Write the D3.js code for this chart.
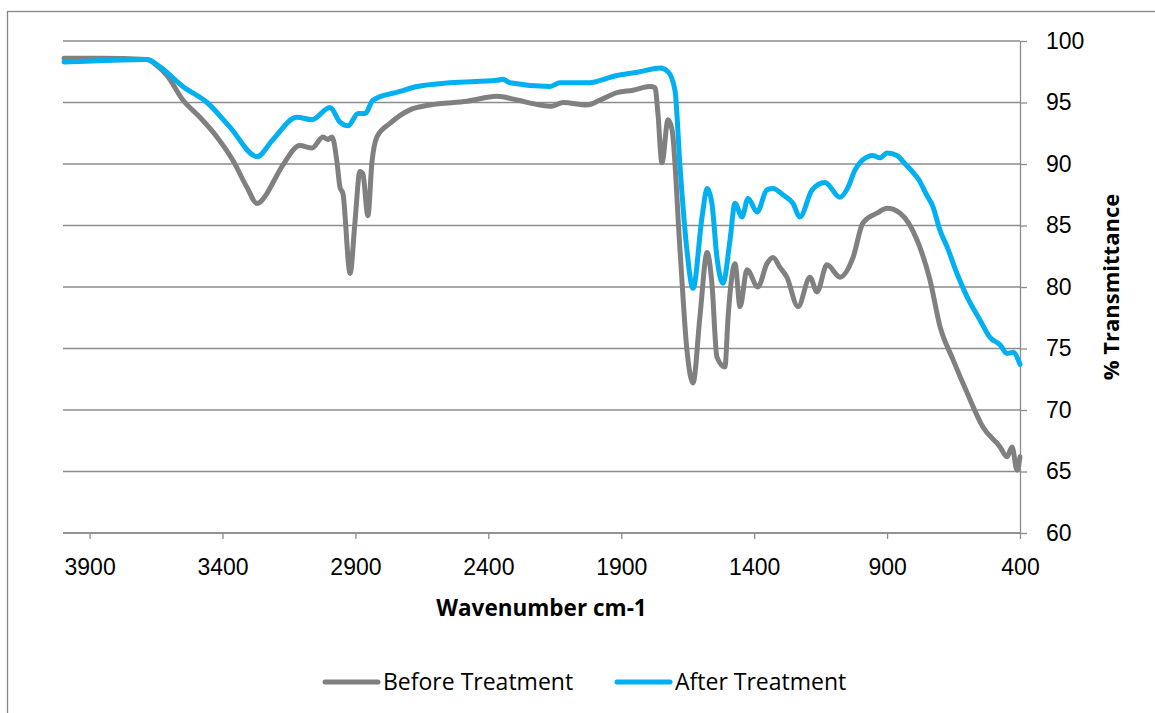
<!DOCTYPE html>
<html>
<head>
<meta charset="utf-8">
<script src="https://cdn.jsdelivr.net/npm/d3@7"></script>
<style>
  body { margin: 0; background: #fff; }
  svg { display: block; font-family: "Open Sans", sans-serif; }
  .grid line { stroke: #8c8c8c; stroke-width: 1.3; }
  .axis path, .axis line { stroke: #8c8c8c; stroke-width: 1.3; }
  .axis text { fill: #000; font-size: 23px; }
</style>
</head>
<body>
<svg width="1155" height="713"></svg>
<script>
// FTIR spectra
var seriesNames = ["Before Treatment", "After Treatment"];

var beforeWn = [3996, 3861, 3684, 3647, 3609, 3549, 3485, 3421, 3361, 3308, 3270, 3233, 3210, 3173, 3109,
  3063, 3022, 3003, 2988, 2969, 2958, 2947, 2920, 2902, 2883, 2872, 2853, 2838, 2819, 2770, 2695, 2620,
  2480, 2367, 2292, 2206, 2161, 2119, 2029, 1980, 1916, 1856, 1792, 1773, 1762, 1747, 1724, 1709, 1679,
  1653, 1630, 1604, 1577, 1559, 1540, 1510, 1498, 1472, 1453, 1427, 1386, 1352, 1329, 1303, 1277, 1235,
  1190, 1164, 1126, 1077, 1028, 991, 938, 900, 851, 787, 739, 701, 652, 599, 539, 475, 449, 430, 411, 400];
var beforeT = [98.6, 98.6, 98.5, 98.0, 97.2, 95.2, 93.8, 92.2, 90.3, 88.1, 86.8, 87.6, 88.5, 89.9, 91.5,
  91.3, 92.2, 92.0, 92.2, 90.1, 88.1, 87.6, 81.1, 85.2, 89.4, 89.2, 85.8, 90.1, 92.2, 93.3, 94.4, 94.8,
  95.1, 95.5, 95.2, 94.8, 94.7, 95.0, 94.8, 95.2, 95.8, 96.0, 96.3, 96.2, 94.1, 90.1, 93.6, 92.8, 83.0,
  74.9, 72.2, 77.6, 82.8, 80.3, 74.3, 73.5, 77.6, 81.9, 78.4, 81.4, 80.0, 81.9, 82.4, 81.6, 80.8, 78.4,
  80.8, 79.6, 81.8, 80.8, 82.4, 85.2, 86.0, 86.4, 86.0, 83.8, 80.6, 76.8, 74.1, 71.4, 68.6, 67.0, 66.2, 67.0, 65.1, 66.2];

var afterWn = [3996, 3861, 3684, 3635, 3549, 3458, 3372, 3270, 3210, 3120, 3063, 2996, 2958, 2928, 2890,
  2864, 2834, 2732, 2668, 2544, 2367, 2345, 2319, 2168, 2131, 2029, 1916, 1830, 1754, 1724, 1698, 1679,
  1653, 1630, 1596, 1577, 1559, 1540, 1517, 1491, 1472, 1446, 1423, 1389, 1352, 1329, 1292, 1254, 1228,
  1182, 1134, 1077, 1047, 1021, 994, 953, 927, 900, 863, 836, 806, 780, 754, 727, 701, 675, 637, 599,
  550, 513, 475, 449, 426, 400];
var afterT = [98.3, 98.4, 98.5, 97.9, 96.3, 95.0, 93.0, 90.6, 92.0, 93.8, 93.6, 94.6, 93.4, 93.1, 94.1,
  94.1, 95.2, 95.9, 96.3, 96.6, 96.8, 96.9, 96.6, 96.3, 96.6, 96.6, 97.2, 97.5, 97.8, 97.5, 96.0, 89.8,
  83.0, 79.9, 85.7, 88.0, 86.8, 82.4, 80.3, 83.8, 86.8, 85.7, 87.2, 86.1, 87.9, 88.0, 87.5, 86.8, 85.7,
  87.9, 88.5, 87.3, 88.1, 89.5, 90.3, 90.7, 90.5, 90.9, 90.7, 90.1, 89.4, 88.7, 87.6, 86.5, 84.6, 83.3, 81.1, 79.2,
  77.3, 75.9, 75.3, 74.6, 74.7, 73.7];

var xTicks = [3900, 3400, 2900, 2400, 1900, 1400, 900, 400];
var yTicks = [60, 65, 70, 75, 80, 85, 90, 95, 100];
var colors = ["#808080", "#00b0f0"];

var svg = d3.select("svg"),
    margin = {top: 41, right: 135, bottom: 180, left: 63},
    width = 1155 - margin.left - margin.right,
    height = 713 - margin.top - margin.bottom;

// chart border
svg.append("rect")
    .attr("x", 7.5).attr("y", 11.5)
    .attr("width", 1160).attr("height", 720)
    .attr("fill", "none").attr("stroke", "#868686").attr("stroke-width", 1.3);

var x = d3.scaleLinear().domain([4000, 400]).range([0, width]),
    y = d3.scaleLinear().domain([60, 100]).range([height, 0]);

var g = svg.append("g")
    .attr("transform", "translate(" + margin.left + "," + margin.top + ")");

// gridlines
g.append("g").attr("class", "grid")
  .selectAll("line").data(yTicks).enter().append("line")
    .attr("x1", 0).attr("x2", width)
    .attr("y1", function(d) { return y(d); })
    .attr("y2", function(d) { return y(d); });

g.append("g")
    .attr("class", "axis")
    .attr("transform", "translate(0," + height + ")")
    .call(d3.axisBottom(x).tickValues(xTicks).tickFormat(d3.format("d"))
      .tickSize(6).tickPadding(20).tickSizeOuter(0))
  .call(function(a) { a.select(".domain").remove(); });

g.append("g")
    .attr("class", "axis")
    .attr("transform", "translate(" + width + ",0)")
    .call(d3.axisRight(y).tickValues(yTicks).tickSize(7).tickPadding(19).tickSizeOuter(0));

// bottom axis line
g.append("line")
    .attr("x1", 0).attr("x2", width)
    .attr("y1", height).attr("y2", height)
    .attr("stroke", "#8c8c8c").attr("stroke-width", 1.3);

var line = d3.line()
    .x(function(d) { return x(d[0]); })
    .y(function(d) { return y(d[1]); })
    .curve(d3.curveMonotoneX);

var series = [d3.zip(beforeWn, beforeT), d3.zip(afterWn, afterT)];

g.selectAll(".spec")
  .data(series)
  .enter().append("path")
    .attr("class", "spec")
    .attr("fill", "none")
    .attr("stroke", function(d, i) { return colors[i]; })
    .attr("stroke-width", 5)
    .attr("stroke-linejoin", "round")
    .attr("stroke-linecap", "round")
    .attr("d", line);

// axis titles
svg.append("text")
    .attr("x", margin.left + width / 2)
    .attr("y", 616)
    .attr("text-anchor", "middle")
    .style("font-size", "22.5px")
    .style("font-weight", "bold")
    .text("Wavenumber cm-1");

svg.append("text")
    .attr("transform", "translate(1119," + (margin.top + height / 2) + ") rotate(-90)")
    .attr("text-anchor", "middle")
    .style("font-size", "22px")
    .style("font-weight", "bold")
    .text("% Transmittance");

// legend
var legendX = [325, 617];
var leg = svg.selectAll(".leg")
  .data(seriesNames)
  .enter().append("g")
    .attr("class", "leg")
    .attr("transform", function(d, i) { return "translate(" + legendX[i] + ",682)"; });

leg.append("line")
    .attr("x1", 0).attr("x2", 53)
    .attr("stroke", function(d, i) { return colors[i]; })
    .attr("stroke-width", 5)
    .attr("stroke-linecap", "round");

leg.append("text")
    .attr("x", 58)
    .attr("dy", "0.35em")
    .style("font-size", "23px")
    .text(function(d) { return d; });
</script>
</body>
</html>
